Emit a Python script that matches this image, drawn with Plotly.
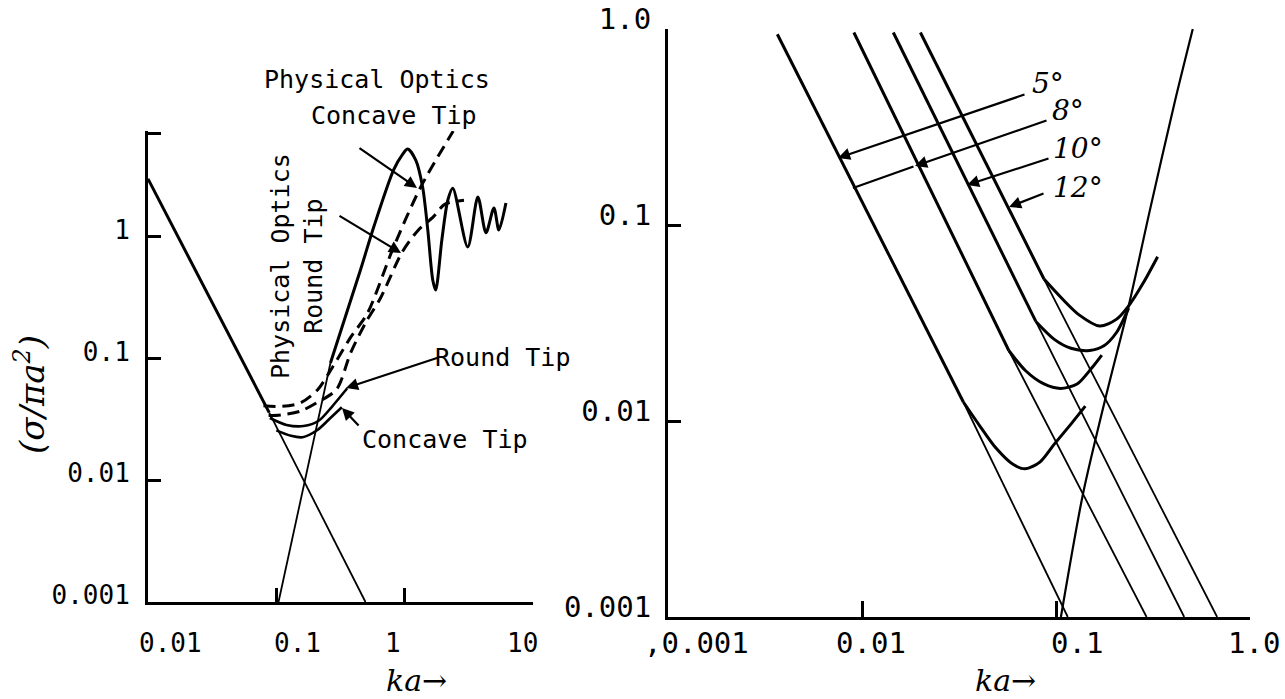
import plotly.graph_objects as go

W, H = 1285, 699

# ---------------- LEFT PANEL DATA (ka, sigma/pi a^2) ----------------
L_XTICKS = [0.01, 0.1, 1, 10]
L_XTICKTEXT = ["0.01", "0.1", "1", "10"]
L_YTICKS = [0.001, 0.01, 0.1, 1, 7.1]
L_YTICKTEXT = ["0.001", "0.01", "0.1", "1", ""]

# optical-region asymptote (thick top part, thin lower part)
desc_thick_ka = [0.01, 0.088]
desc_thick_sig = [3.0, 0.036]
desc_thin_ka = [0.088, 0.495]
desc_thin_sig = [0.036, 0.001]

# Rayleigh asymptote (thin)
ray_ka = [0.104, 0.264]
ray_sig = [0.001, 0.092]

# exact curve with resonance oscillations
exact_ka = [0.264, 0.453, 0.575, 0.82, 0.96, 1.055, 1.22, 1.38, 1.514, 1.655, 1.745,
            1.95, 2.17, 2.37, 3.10, 3.72, 4.30, 4.96, 5.42, 6.15]
exact_sig = [0.092, 0.537, 1.21, 3.55, 4.75, 5.27, 4.28, 2.57, 1.14, 0.443, 0.366,
             0.95, 2.01, 2.51, 0.826, 2.13, 1.08, 1.73, 1.14, 1.90]

# Round Tip (solid)
round_ka = [0.089, 0.12, 0.163, 0.215, 0.27, 0.357]
round_sig = [0.0325, 0.0285, 0.0279, 0.031, 0.040, 0.057]

# Concave Tip (solid)
concave_ka = [0.100, 0.13, 0.16, 0.209, 0.26, 0.324]
concave_sig = [0.0257, 0.0232, 0.0226, 0.0259, 0.032, 0.0398]

# Physical Optics, Concave Tip (dashed)
po_concave_ka = [0.0794, 0.11, 0.154, 0.209, 0.274, 0.38, 0.514, 0.82, 1.334, 2.39]
po_concave_sig = [0.041, 0.0405, 0.0432, 0.0552, 0.085, 0.15, 0.237, 0.826, 2.57, 7.4]

# Physical Optics, Round Tip (dashed)
po_round_ka = [0.087, 0.11, 0.154, 0.209, 0.295, 0.38, 0.50, 0.65, 0.95, 1.26, 1.67, 2.05, 2.9]
po_round_sig = [0.034, 0.0345, 0.037, 0.0437, 0.056, 0.112, 0.20, 0.316, 0.741, 1.12, 1.46, 1.85, 2.0]

# ---------------- RIGHT PANEL DATA ----------------
R_XTICKS = [0.001, 0.01, 0.1, 1.0]
R_XTICKTEXT = [",0.001", "0.01", "0.1", "1.0"]
R_YTICKS = [0.001, 0.01, 0.1, 1.0]
R_YTICKTEXT = ["0.001", "0.01", "0.1", "1.0"]

ANGLES = ["5°", "8°", "10°", "12°"]
TOP_KA = [0.00366, 0.00908, 0.0145, 0.0200]
TOP_SIG = [0.94, 0.96, 0.96, 0.96]
BEND_KA = [0.0333, 0.0571, 0.0787, 0.0867]
BEND_SIG = [0.0125, 0.0229, 0.0322, 0.0530]
BOTTOM_KA = [0.115, 0.293, 0.458, 0.677]
BOTTOM_SIG = [0.001, 0.001, 0.001, 0.001]

bucket_5_ka = [0.0333, 0.0406, 0.0493, 0.060, 0.0695, 0.0826, 0.098, 0.1194, 0.1416]
bucket_5_sig = [0.0125, 0.0094, 0.00723, 0.00601, 0.0057, 0.00617, 0.00762, 0.00964, 0.0119]
bucket_8_ka = [0.0571, 0.0695, 0.0867, 0.1054, 0.1285, 0.1524, 0.1722]
bucket_8_sig = [0.0229, 0.0181, 0.01545, 0.01466, 0.01545, 0.01858, 0.0217]
bucket_10_ka = [0.0787, 0.098, 0.1194, 0.149, 0.1766, 0.2046, 0.237]
bucket_10_sig = [0.0322, 0.0261, 0.0235, 0.0229, 0.0242, 0.0282, 0.0377]
bucket_12_ka = [0.0867, 0.108, 0.1315, 0.168, 0.2046, 0.237, 0.281, 0.334]
bucket_12_sig = [0.053, 0.0419, 0.0348, 0.0305, 0.033, 0.0387, 0.0504, 0.0689]
BUCKETS_KA = [bucket_5_ka, bucket_8_ka, bucket_10_ka, bucket_12_ka]
BUCKETS_SIG = [bucket_5_sig, bucket_8_sig, bucket_10_sig, bucket_12_sig]

r_ray_ka = [0.106, 0.138, 0.184, 0.237, 0.303, 0.406, 0.507]
r_ray_sig = [0.001, 0.00428, 0.0143, 0.0387, 0.116, 0.41, 1.0]

# ---------------- FIGURE ----------------
fig = go.Figure()
K = "black"


def add(x, y, xa, ya, width, dash=None, spline=False):
    fig.add_trace(go.Scatter(
        x=x, y=y, xaxis=xa, yaxis=ya, mode="lines", hoverinfo="skip",
        line=dict(color=K, width=width, dash=dash,
                  shape="spline" if spline else "linear", smoothing=0.8),
        showlegend=False))


# left panel
add(desc_thick_ka, desc_thick_sig, "x", "y", 3)
add(desc_thin_ka, desc_thin_sig, "x", "y", 1.8)
add(ray_ka, ray_sig, "x", "y", 1.8)
add(exact_ka, exact_sig, "x", "y", 3, spline=True)
add(round_ka, round_sig, "x", "y", 2.6, spline=True)
add(concave_ka, concave_sig, "x", "y", 2.6, spline=True)
add(po_concave_ka, po_concave_sig, "x", "y", 3, dash="12px,7px", spline=True)
add(po_round_ka, po_round_sig, "x", "y", 3, dash="12px,7px", spline=True)

# right panel
for i in range(len(ANGLES)):
    add([TOP_KA[i], BEND_KA[i]], [TOP_SIG[i], BEND_SIG[i]], "x2", "y2", 3)
    add([BEND_KA[i], BOTTOM_KA[i]], [BEND_SIG[i], BOTTOM_SIG[i]], "x2", "y2", 1.8)
    add(BUCKETS_KA[i], BUCKETS_SIG[i], "x2", "y2", 3, spline=True)
add(r_ray_ka, r_ray_sig, "x2", "y2", 2.2, spline=True)


def px(x):
    return x / W


def py(y):
    return 1 - y / H


MONO = "DejaVu Sans Mono"
HAND = "DejaVu Serif"

axis_common = dict(type="log", showgrid=False, zeroline=False, showline=True,
                   linecolor=K, linewidth=3, ticks="inside", tickcolor=K,
                   tickwidth=2.5, mirror=False, automargin=False,
                   ticklabeloverflow="allow")

fig.update_layout(
    width=W, height=H, autosize=False,
    margin=dict(l=0, r=0, t=0, b=0, pad=0),
    paper_bgcolor="white", plot_bgcolor="white",
    xaxis=dict(**axis_common, domain=[px(148), px(533)], range=[-2, 1],
               tickvals=L_XTICKS, ticktext=L_XTICKTEXT, ticklen=14,
               showticklabels=False, anchor="y"),
    yaxis=dict(**axis_common, domain=[py(602), py(131)], range=[-3, 0.87],
               tickvals=L_YTICKS, ticktext=L_YTICKTEXT, ticklen=13,
               tickfont=dict(family=MONO, size=26, color=K),
               ticklabelstandoff=10, ticklabelshift=-7, anchor="x"),
    xaxis2=dict(**axis_common, domain=[px(668), px(1250)], range=[-3, 0],
                tickvals=R_XTICKS, ticktext=R_XTICKTEXT, ticklen=16,
                showticklabels=False, anchor="y2"),
    yaxis2=dict(**axis_common, domain=[py(617), py(29)], range=[-3, 0],
                tickvals=R_YTICKS, ticktext=R_YTICKTEXT, ticklen=13,
                tickfont=dict(family=MONO, size=29, color=K),
                ticklabelstandoff=8, ticklabelshift=-10, anchor="x2"),
)

ann = []


def text(x, y, s, size=25, family=MONO, angle=0, italic=False):
    ann.append(dict(x=px(x), y=py(y), xref="paper", yref="paper", text=s,
                    showarrow=False, textangle=angle, align="center",
                    xanchor="center", yanchor="middle",
                    font=dict(family=family, size=size, color=K,
                              style="italic" if italic else "normal")))


def arrow(tip, tail, head=2):
    ann.append(dict(x=px(tip[0]), y=py(tip[1]), xref="paper", yref="paper",
                    ax=tail[0] - tip[0], ay=tail[1] - tip[1], text="",
                    showarrow=True, arrowhead=head, arrowsize=1.1,
                    arrowwidth=2.2, arrowcolor=K))


# x tick labels (typewritten, placed under their ticks as in the scan)
L_XLABEL_PX = [170, 297, 393, 522]
R_XLABEL_PX = [696, 871, 1077, 1254]
for lab, xp in zip(L_XTICKTEXT, L_XLABEL_PX):
    text(xp, 643, lab, size=26)
for lab, xp in zip(R_XTICKTEXT, R_XLABEL_PX):
    text(xp, 643, lab, size=29)

# left panel texts
text(377, 80, "Physical Optics")
text(394, 116, "Concave Tip")
text(297, 266, "Physical Optics<br>Round Tip", angle=-90)
text(502, 357, "Round Tip")
text(445, 439, "Concave Tip")
text(30, 395, "(σ/πa<sup>2</sup>)", size=34, family=HAND, angle=-90, italic=True)
text(416, 680, "ka→", size=30, family=HAND, italic=True)

arrow((417, 188), (358, 147))
arrow((401, 253), (338, 215))
arrow((346, 388), (440, 357))
arrow((342, 408), (360, 427))

# right panel texts
text(1048, 83, "5°", size=28, family=HAND, italic=True)
text(1068, 111, "8°", size=28, family=HAND, italic=True)
text(1078, 148, "10°", size=28, family=HAND, italic=True)
text(1078, 188, "12°", size=28, family=HAND, italic=True)
text(1005, 680, "ka→", size=30, family=HAND, italic=True)

arrow((838, 158), (1026, 94))
arrow((915, 166), (1048, 120))
arrow((853, 188), (915, 166), head=0)
arrow((967, 185), (1050, 158))
arrow((1009, 207), (1045, 193))

fig.update_layout(annotations=ann)

fig.write_html("out.html", config={"displayModeBar": False},
               post_script="document.body.style.margin='0';")
